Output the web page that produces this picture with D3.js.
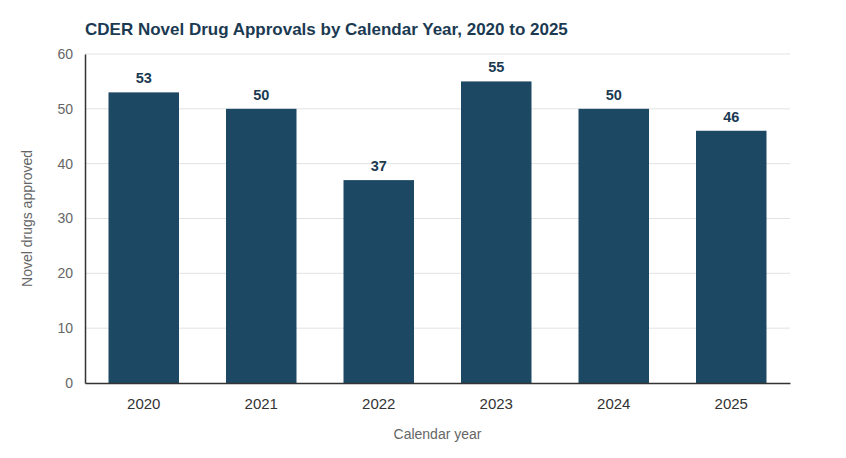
<!DOCTYPE html>
<html>
<head>
<meta charset="utf-8">
<script src="https://cdn.jsdelivr.net/npm/d3@7"></script>
<style>
  body { margin: 0; background: #fff; }
  svg { font-family: "Liberation Sans", Arial, sans-serif; }
</style>
</head>
<body>
<svg id="chart" width="846" height="458"></svg>
<script>
const years = ["2020", "2021", "2022", "2023", "2024", "2025"];
const approvals = [53, 50, 37, 55, 50, 46];
const yTicks = [0, 10, 20, 30, 40, 50, 60];

const svg = d3.select("#chart");
const margin = { top: 54, right: 56, bottom: 75, left: 85 };
const width = 846 - margin.left - margin.right;
const height = 458 - margin.top - margin.bottom;

const x = d3.scaleBand().domain(years).range([0, width])
    .paddingInner(0.4).paddingOuter(0.2);
const y = d3.scaleLinear().domain([0, 60]).range([height, 0]);

svg.append("text")
    .attr("x", margin.left)
    .attr("y", 35)
    .attr("fill", "#1b3a52")
    .style("font-size", "17px")
    .style("font-weight", "bold")
    .text("CDER Novel Drug Approvals by Calendar Year, 2020 to 2025");

const g = svg.append("g")
    .attr("transform", `translate(${margin.left},${margin.top})`);

// gridlines
g.append("g")
    .selectAll("line")
    .data(yTicks.filter(d => d > 0))
    .enter().append("line")
    .attr("x1", 0).attr("x2", width)
    .attr("y1", d => y(d)).attr("y2", d => y(d))
    .attr("stroke", "#e2e2e2")
    .attr("stroke-width", 1);

// y axis
const yAxis = g.append("g")
    .call(d3.axisLeft(y).tickValues(yTicks).tickSize(0).tickPadding(12));
yAxis.select(".domain").attr("stroke", "#333").attr("stroke-width", 1.5);
yAxis.selectAll("text").attr("fill", "#666").style("font-size", "14px");

// bars
g.selectAll(".bar")
    .data(years)
    .enter().append("rect")
    .attr("class", "bar")
    .attr("x", d => x(d))
    .attr("y", (d, i) => y(approvals[i]))
    .attr("width", x.bandwidth())
    .attr("height", (d, i) => height - y(approvals[i]))
    .attr("fill", "#1d4864");

// value labels
g.selectAll(".val")
    .data(years)
    .enter().append("text")
    .attr("class", "val")
    .attr("x", d => x(d) + x.bandwidth() / 2)
    .attr("y", (d, i) => y(approvals[i]) - 9)
    .attr("text-anchor", "middle")
    .attr("fill", "#1b3a52")
    .style("font-size", "14.5px")
    .style("font-weight", "bold")
    .text((d, i) => approvals[i]);

// x axis
const xAxis = g.append("g")
    .attr("transform", `translate(0,${height})`)
    .call(d3.axisBottom(x).tickSize(0).tickPadding(15));
xAxis.select(".domain").attr("stroke", "#333").attr("stroke-width", 1.5);
xAxis.selectAll("text").attr("fill", "#333").style("font-size", "15px");

// axis titles
svg.append("text")
    .attr("transform", `translate(32,${margin.top + height / 2}) rotate(-90)`)
    .attr("text-anchor", "middle")
    .attr("fill", "#666")
    .style("font-size", "14px")
    .text("Novel drugs approved");

svg.append("text")
    .attr("x", margin.left + width / 2)
    .attr("y", 439)
    .attr("text-anchor", "middle")
    .attr("fill", "#666")
    .style("font-size", "14px")
    .text("Calendar year");
</script>
</body>
</html>
